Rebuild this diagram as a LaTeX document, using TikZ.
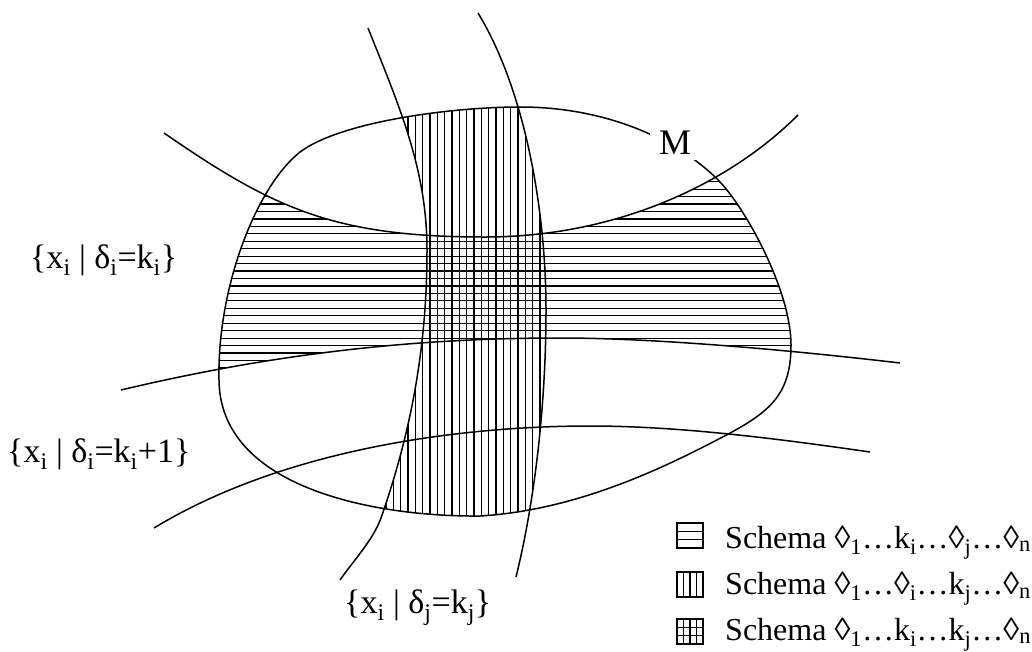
\documentclass[tikz,border=0pt]{standalone}
\usepackage{fontspec}
\setmainfont{Liberation Serif}
\newcommand\sbx[1]{\textsubscript{#1}}
\begin{document}
\begin{tikzpicture}[x=1pt,y=-1pt,
  curve/.style={line width=1.5pt},
  hatch/.style={line width=1.2pt},
  swatch/.style={line width=1.8pt},
  lbl/.style={font=\fontsize{34}{40}\selectfont, inner sep=0pt, anchor=base west},
  leg/.style={font=\fontsize{32}{38}\selectfont, inner sep=0pt, anchor=base west}]
\useasboundingbox (0,0) rectangle (1032,651);
\def\pathM{(219,380) .. controls (217,290) and (255,188) .. (300,152)
  .. controls (340,122) and (450,107) .. (520,107)
  .. controls (620,107) and (690,150) .. (720,182)
  .. controls (745,208) and (791,290) .. (791,345)
  .. controls (791,392) and (772,410) .. (732,432)
  .. controls (670,465) and (580,510) .. (480,516)
  .. controls (380,517) and (220,490) .. (219,380) -- cycle}
\def\pathHa{(164,133) .. controls (274,209) and (335,237) .. (485,237)
  .. controls (615,237) and (728,185) .. (798,115)}
\def\pathHb{(121,390) .. controls (271,354.4) and (410,338) .. (560,338)
  .. controls (660,338) and (800,351.2) .. (900,363)}
\def\pathHc{(154,528) .. controls (284,449) and (460,426) .. (590,426)
  .. controls (680,426) and (780,439) .. (870,452)}
\def\pathVa{(368,28) .. controls (400,108) and (427,170) .. (427,250)
  .. controls (427,350) and (410,435) .. (381,518)
  .. controls (373,540) and (354,560) .. (340,580)}
\def\pathVb{(478,13) .. controls (525,90) and (546,210) .. (546,310)
  .. controls (546,400) and (535.7,497) .. (516,577)}
% horizontal hatching
\begin{scope}
  \clip \pathM;
  \clip \pathHa -- (1100,115) -- (1100,800) -- (0,800) -- (0,133) -- cycle;
  \clip \pathHb -- (1100,363) -- (1100,-100) -- (0,-100) -- (0,390) -- cycle;
  \foreach \i in {-6,...,30} \draw[hatch] (150,{204+7.45*\i}) -- (850,{204+7.45*\i});
\end{scope}
% vertical hatching
\begin{scope}
  \clip \pathM;
  \clip \pathVa -- (340,800) -- (1100,800) -- (1100,-100) -- (368,-100) -- cycle;
  \clip \pathVb -- (516,800) -- (0,800) -- (0,-100) -- (478,-100) -- cycle;
  \foreach \i in {-6,...,22} \draw[hatch] ({430+7.33*\i},0) -- ({430+7.33*\i},650);
\end{scope}
% curves
\draw[curve] \pathM;
\draw[curve] \pathHa;
\draw[curve] \pathHb;
\draw[curve] \pathHc;
\draw[curve] \pathVa;
\draw[curve] \pathVb;
% labels
\node[font=\fontsize{36}{40}\selectfont, fill=white, inner xsep=9pt, inner ysep=5pt] (M) at (675,143) {M};
\node[lbl] (la) at (30,268) {\{x\sbx{i} | δ\sbx{i}=k\sbx{i}\}};
\node[lbl] (lb) at (7,462) {\{x\sbx{i} | δ\sbx{i}=k\sbx{i}+1\}};
\node[lbl] (lc) at (344,613) {\{x\sbx{i} | δ\sbx{j}=k\sbx{j}\}};
% legend
\draw[swatch] (677,523) rectangle (703,548);
\draw[hatch] (677,531.3) -- (703,531.3) (677,539.7) -- (703,539.7);
\draw[swatch] (677,572) rectangle (703,597);
\draw[hatch] (683.5,572) -- (683.5,597) (690,572) -- (690,597) (696.5,572) -- (696.5,597);
\draw[swatch] (677,619) rectangle (703,644);
\draw[hatch] (683.5,619) -- (683.5,644) (690,619) -- (690,644) (696.5,619) -- (696.5,644)
             (677,627.3) -- (703,627.3) (677,635.7) -- (703,635.7);
\node[leg] (g1) at (725,548) {Schema ◊\sbx{1}…k\sbx{i}…◊\sbx{j}…◊\sbx{n}};
\node[leg] (g2) at (725,594.5) {Schema ◊\sbx{1}…◊\sbx{i}…k\sbx{j}…◊\sbx{n}};
\node[leg] (g3) at (725,640) {Schema ◊\sbx{1}…k\sbx{i}…k\sbx{j}…◊\sbx{n}};
\end{tikzpicture}
\end{document}
